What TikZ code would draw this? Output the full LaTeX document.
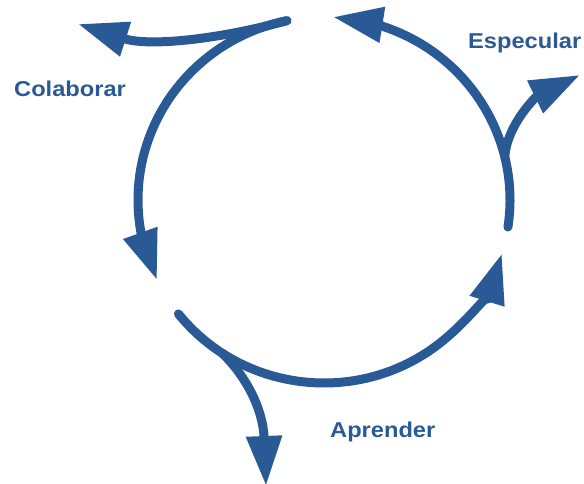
\documentclass[tikz,border=0pt]{standalone}
\usepackage{fontspec}
\setmainfont{Liberation Sans}
\newfontfamily\labelfont{Liberation Sans}[FakeStretch=1.1]
\usetikzlibrary{arrows.meta}
\definecolor{cycleblue}{HTML}{2A5A96}
\begin{document}
\begin{tikzpicture}[x=1pt,y=1pt,
  flow/.style={draw=cycleblue, line width=9pt, line cap=round,
    -{Triangle[length=50pt,width=34pt]}},
  steplabel/.style={text=cycleblue, inner sep=0pt, anchor=base west,
    font=\labelfont\fontsize{21.5}{26}\selectfont\bfseries}]
\useasboundingbox (0,0) rectangle (584,484);
\coordinate (c) at (324,284);

% points on the cycle
\path (c) ++(101.5:186 and 183) coordinate (topfork);
\path (c) ++(-8.5:186 and 183) coordinate (rightstart);
\path (c) ++(13.6:186 and 183) coordinate (rightfork);
\path (c) ++(218.5:186 and 183) coordinate (bottomstart);
\path (c) ++(236.7:186 and 183) coordinate (bottomfork);

% arrow tips of the cycle
\coordinate (lefttip) at (157,204);
\coordinate (toptip) at (333,467);

% outward branch tips
\coordinate (tltip) at (78,460);
\coordinate (rtip) at (580,409);
\coordinate (btip) at (266,-2);

% three arcs of the cycle
\draw[flow] (topfork) arc[start angle=101.5, end angle=192, x radius=186, y radius=183] -- (lefttip);
\draw[flow] (rightstart) arc[start angle=-8.5, end angle=75, x radius=186, y radius=183] -- (toptip);
\draw[flow] (bottomstart) arc[start angle=218.5, end angle=343, x radius=186, y radius=183];

% branches leaving the cycle
\draw[flow] (topfork) .. controls (220,445) and (150,437) .. (tltip);
\draw[flow] (rightfork) .. controls (507,360) and (537,388) .. (rtip);
\draw[flow] (bottomfork) .. controls (246,108) and (263,75) .. (btip);

% labels
\node[steplabel] (colaborar) at (14,387) {Colaborar};
\node[steplabel] (especular) at (468,435) {Especular};
\node[steplabel] (aprender) at (330,46) {Aprender};
\end{tikzpicture}
\end{document}
